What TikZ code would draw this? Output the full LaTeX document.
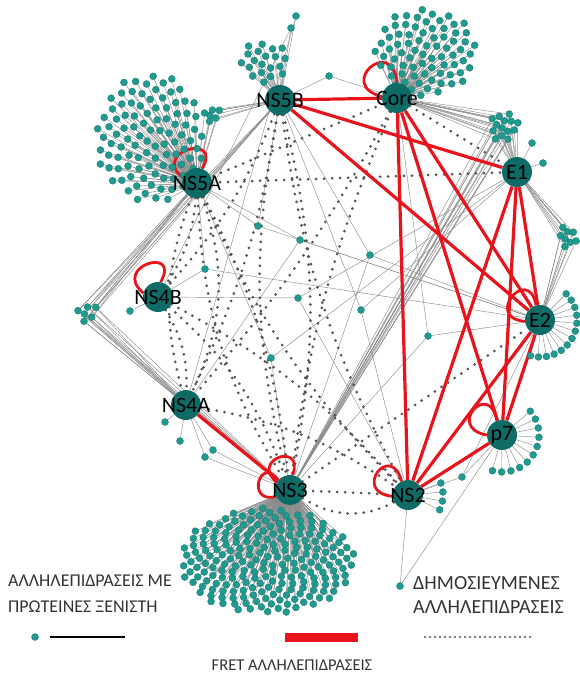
\documentclass[tikz,border=0pt]{standalone}
\usepackage{fontspec}
\setmainfont{Carlito}
\definecolor{hubteal}{HTML}{0F6B66}
\definecolor{hostteal}{HTML}{1F9A8F}
\definecolor{fretred}{HTML}{E9141B}
\definecolor{hostline}{HTML}{8C8C8C}
\definecolor{pubdot}{HTML}{555555}
\definecolor{legendtext}{HTML}{333333}
\pgfdeclarelayer{hostlayer}
\pgfdeclarelayer{publayer}
\pgfdeclarelayer{fretlayer}
\pgfdeclarelayer{dotlayer}
\pgfsetlayers{hostlayer,publayer,fretlayer,dotlayer,main}
\tikzset{
  hub/.style={circle, fill=hubteal, minimum size=30pt, inner sep=0pt},
  hublabel/.style={font=\fontsize{22}{22}\selectfont, text=black, inner sep=0pt},
  host/.style={circle, fill=hostteal, draw=hostteal!75!black, line width=0.3pt, minimum size=7pt, inner sep=0pt},
  hostedge/.style={draw=hostline, line width=0.45pt},
  fret/.style={draw=fretred, line width=3.2pt},
  selfloop/.style={draw=fretred, line width=2.8pt},
  published/.style={draw=pubdot, line width=3pt, line cap=round, dash pattern=on 0pt off 8pt},
  legendlabel/.style={font=\fontsize{18}{18}\selectfont, text=legendtext, inner sep=0pt, anchor=west},
  legendwide/.style={legendlabel, font=\fontsize{20}{20}\selectfont},
  legendfret/.style={legendlabel, font=\fontsize{16.5}{16.5}\selectfont, anchor=center},
}
% filled elliptic cloud of host proteins (sunflower arrangement)
% #1 prefix, #2 cx, #3 cy, #4 rx, #5 ry, #6 count
\newcommand\hostcloud[6]{%
  \foreach \k in {1,...,#6}{%
    \pgfmathsetmacro\rad{sqrt((\k-0.5)/#6)}%
    \pgfmathsetmacro\ang{360*(\k*0.381966-floor(\k*0.381966))}%
    \node[host] (#1-\k) at ({#2+#4*\rad*cos(\ang)},{#3+#5*\rad*sin(\ang)}) {};
  }}
% arc of host proteins around a centre
% #1 prefix, #2 cx, #3 cy, #4 radius, #5 first angle, #6 last angle, #7 count
\newcommand\hostfan[7]{%
  \foreach \k in {1,...,#7}{%
    \pgfmathsetmacro\ang{#5+(#6-#5)*(\k-1)/(#7-1)}%
    \node[host] (#1-\k) at ({#2+#4*cos(\ang)},{#3-#4*sin(\ang)}) {};
  }}
% links from every member of a group to a hub
\newcommand\hostlinks[3]{%
  \foreach \k in {1,...,#3}{\draw[hostedge] (#2) -- (#1-\k);}}
\begin{document}
\begin{tikzpicture}[x=1pt,y=-1pt]
\useasboundingbox (0,0) rectangle (579,678);

% viral proteins
\foreach \n/\x/\y in {NS5B/280/100, Core/397/98, E1/517/172, E2/540/320, p7/502/435,
                      NS2/408/495, NS3/290/490, NS4A/186/405, NS4B/158/297, NS5A/197/183}{
  \node[hub] (\n) at (\x,\y) {};
  \node[hublabel] (\n-lab) at (\x,\y) {\n};
}

% host proteins
\begin{pgfonlayer}{dotlayer}
\hostcloud{hA}{150}{138}{55}{65}{100}
\hostcloud{hAx}{212}{114}{10}{8}{6}
\hostcloud{hB}{265}{62}{26}{21}{20}
\hostcloud{hC}{426}{52}{52}{44}{75}
\hostcloud{hE}{504}{126}{15}{16}{14}
\hostcloud{hR}{567}{237}{10}{12}{8}
\hostfan{fE2}{540}{320}{37}{45}{-105}{13}
\hostfan{fp7}{502}{435}{37}{40}{-105}{11}
\hostfan{fNS2}{408}{495}{35}{20}{-25}{4}
\hostcloud{h3}{267}{561}{88}{53}{215}
\hostcloud{hL}{87}{312}{12}{10}{6}
\foreach \s/\x/\y in {s1/258/226, s2/205/269, s3/271/358, s4/361/310, s5/428/336, s6/329/76,
    s7/213/450, s8/205/457, s9/165/422, s10/180/441, s11/130/311, s12/462/477, s13/296/16,
    s14/291/28, s15/532/143, s16/543/163, s17/400/586, s20/300/240, s21/370/255, s22/298/298}{
  \node[host] (\s) at (\x,\y) {};
}
\end{pgfonlayer}

% host interactions
\begin{pgfonlayer}{hostlayer}
\hostlinks{hA}{NS5A}{100}
\hostlinks{hAx}{NS5A}{6}
\hostlinks{hAx}{NS5B}{6}
\hostlinks{hB}{NS5B}{20}
\hostlinks{hC}{Core}{75}
\hostlinks{hE}{E1}{14}
\hostlinks{hE}{Core}{14}
\hostlinks{hE}{NS3}{14}
\hostlinks{hR}{E1}{8}
\hostlinks{hR}{E2}{8}
\hostlinks{fE2}{E2}{13}
\hostlinks{fp7}{p7}{11}
\hostlinks{fNS2}{NS2}{4}
\hostlinks{h3}{NS3}{215}
\hostlinks{hL}{NS5A}{6}
\hostlinks{hL}{NS5B}{6}
\hostlinks{hL}{NS4A}{6}
\hostlinks{hL}{NS3}{6}
\foreach \s/\hubs in {s1/{NS5B,NS5A,E2}, s2/{NS5A,NS4B,E2}, s3/{NS5A,NS3,E1},
    s4/{NS5B,NS2,E1}, s5/{E2,NS3,Core}, s6/{NS5B,Core}, s7/{NS4A,NS3}, s8/{NS4A,NS3},
    s9/{NS4A}, s10/{NS4A}, s11/{NS4B}, s12/{NS2,p7,E2}, s13/{NS5B,NS4A}, s14/{NS5B,NS4B},
    s15/{E1}, s16/{E1}, s17/{NS2,p7}, s20/{NS5A,E2,NS4A}, s21/{NS5B,E2,NS3},
    s22/{NS4B,E1,NS2}}{
  \foreach \h in \hubs {\draw[hostedge] (\h) -- (\s);}
}
\end{pgfonlayer}

% published interactions (several are drawn as curved arcs)
\begin{pgfonlayer}{publayer}
\foreach \a/\b/\bend in {Core/NS5A/0, Core/E1/0, Core/NS3/-8, Core/NS4A/6, NS5B/NS4B/10,
                   NS5B/NS4A/8, NS5B/NS3/-12, NS5B/NS3/12, NS5B/NS2/-10, NS5A/E1/0,
                   NS5A/NS4B/14, NS5A/NS4A/22, NS5A/NS4A/-18, NS5A/NS3/-14, NS5A/NS3/10,
                   NS5A/NS2/-10, NS4B/NS4A/16, NS4B/NS3/14, NS4B/NS2/10, NS4A/NS2/12,
                   NS3/NS2/0, NS3/NS2/-30, NS3/E2/0}{
  \draw[published] (\a) to[bend left=\bend] (\b);
}
\end{pgfonlayer}

% FRET interactions
\begin{pgfonlayer}{fretlayer}
\foreach \a/\b in {NS5B/Core, NS5B/E1, NS5B/E2, Core/NS2, Core/p7, Core/E2, E1/E2, E1/p7,
                   E1/NS2, E2/NS2, E2/p7, p7/NS2, NS4A/NS3}{
  \draw[fret] (\a) -- (\b);
}
\draw[selfloop] (Core.175) to[out=165,in=95,distance=48pt] (Core.90);
\draw[selfloop] (NS5A.160) to[out=140,in=60,distance=42pt] (NS5A.70);
\draw[selfloop] (NS4B.165) to[out=140,in=60,distance=42pt] (NS4B.80);
\draw[selfloop] (E2.185) to[out=175,in=100,distance=42pt] (E2.105);
\draw[selfloop] (p7.180) to[out=170,in=100,distance=42pt] (p7.110);
\draw[selfloop] (NS2.185) to[out=175,in=105,distance=42pt] (NS2.115);
\draw[selfloop] (NS3.150) to[out=140,in=70,distance=36pt] (NS3.80);
\draw[selfloop] (NS3.205) to[out=195,in=125,distance=32pt] (NS3.140);
\end{pgfonlayer}

% legend
\node[host] (legdot) at (35,637) {};
\coordinate (legA1) at (50,637);  \coordinate (legA2) at (125,637);
\coordinate (legB1) at (285,637); \coordinate (legB2) at (358,637);
\coordinate (legC1) at (425,637); \coordinate (legC2) at (530,637);
\draw[black, line width=2.6pt] (legA1) -- (legA2);
\draw[fretred, line width=9pt] (legB1) -- (legB2);
\draw[pubdot, line width=2.2pt, line cap=round, dash pattern=on 0pt off 5pt] (legC1) -- (legC2);
\node[legendlabel] (lt1) at (8,581) {ΑΛΛΗΛΕΠΙΔΡΑΣΕΙΣ ΜΕ};
\node[legendlabel] (lt2) at (8,607) {ΠΡΩΤΕΙΝΕΣ ΞΕΝΙΣΤΗ};
\node[legendwide] (lt3) at (413,583) {ΔΗΜΟΣΙΕΥΜΕΝΕΣ};
\node[legendwide] (lt4) at (413,607) {ΑΛΛΗΛΕΠΙΔΡΑΣΕΙΣ};
\node[legendfret] (lt5) at (292,665) {FRET ΑΛΛΗΛΕΠΙΔΡΑΣΕΙΣ};
\end{tikzpicture}
\end{document}
